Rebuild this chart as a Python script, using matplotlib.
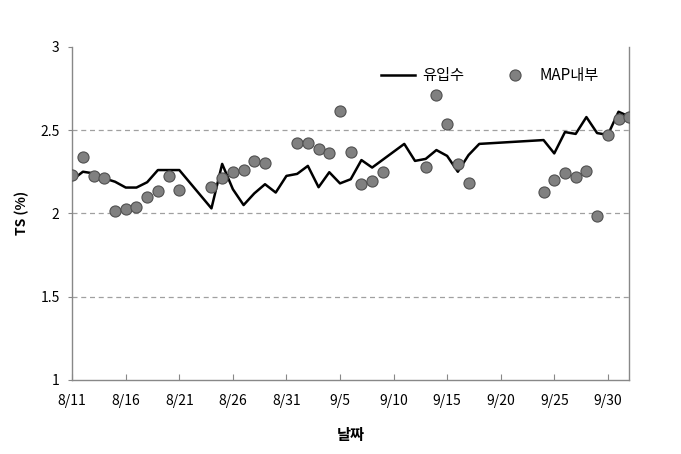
import matplotlib
matplotlib.use('Agg')
from matplotlib import pyplot as plt
import pandas as pd

plt.rcParams['font.family'] = ['Noto Sans CJK KR', 'DejaVu Sans']

# 유입수 (line)
inflow_dates = ['8/11', '8/12', '8/13', '8/14', '8/15', '8/16', '8/17', '8/18', '8/19', '8/20', '8/21',
                '8/24', '8/25', '8/26', '8/27', '8/28', '8/29', '8/30', '8/31', '9/1', '9/2', '9/3',
                '9/4', '9/5', '9/6', '9/7', '9/8', '9/11', '9/12', '9/13', '9/14', '9/15', '9/16',
                '9/17', '9/18', '9/24', '9/25', '9/26', '9/27', '9/28', '9/29', '9/30', '10/1', '10/2']
inflow_ts = [2.20, 2.25, 2.24, 2.21, 2.19, 2.155, 2.155, 2.187, 2.26, 2.26, 2.26,
             2.03, 2.297, 2.145, 2.05, 2.12, 2.175, 2.125, 2.225, 2.237, 2.285, 2.157,
             2.247, 2.18, 2.205, 2.32, 2.275, 2.417, 2.315, 2.327, 2.38, 2.345, 2.25,
             2.35, 2.417, 2.44, 2.36, 2.488, 2.477, 2.578, 2.482, 2.471, 2.61, 2.581]

# MAP내부 (markers)
map_dates = ['8/11', '8/12', '8/13', '8/14', '8/15', '8/16', '8/17', '8/18', '8/19', '8/20', '8/21',
             '8/24', '8/25', '8/26', '8/27', '8/28', '8/29', '9/1', '9/2', '9/3', '9/4', '9/5',
             '9/6', '9/7', '9/8', '9/9', '9/13', '9/14', '9/15', '9/16', '9/17', '9/24', '9/25',
             '9/26', '9/27', '9/28', '9/29', '9/30', '10/1', '10/2']
map_ts = [2.233, 2.341, 2.227, 2.215, 2.013, 2.027, 2.041, 2.10, 2.137, 2.225, 2.143,
          2.16, 2.21, 2.247, 2.26, 2.317, 2.305, 2.42, 2.42, 2.387, 2.36, 2.616,
          2.371, 2.177, 2.197, 2.247, 2.28, 2.712, 2.538, 2.297, 2.185, 2.131, 2.201,
          2.241, 2.217, 2.257, 1.987, 2.471, 2.568, 2.581]

tick_labels = ['8/11', '8/16', '8/21', '8/26', '8/31', '9/5', '9/10', '9/15', '9/20', '9/25', '9/30']


def to_dt(days):
    return pd.to_datetime(['2015/' + d for d in days], format='%Y/%m/%d')


fig = plt.figure(figsize=(6.81, 4.54), dpi=100)
ax = fig.add_axes([0.106, 0.163, 0.818, 0.734])

for y in [1.5, 2.0, 2.5]:
    ax.axhline(y, color='#a0a0a0', lw=0.9, ls=(0, (4, 3)), zorder=0)

ax.plot(to_dt(inflow_dates), inflow_ts, color='black', lw=1.8, label='유입수', zorder=2)
ax.plot(to_dt(map_dates), map_ts, ls='none', marker='o', ms=8, mfc='#808080',
        mec='#505050', mew=0.8, label='MAP내부', zorder=3)

ax.set_xlim(to_dt(['8/11'])[0], to_dt(['10/2'])[0])
ax.set_ylim(1, 3)
ax.set_yticks([1, 1.5, 2, 2.5, 3])
ax.set_yticklabels(['1', '1.5', '2', '2.5', '3'])
ax.set_xticks(to_dt(tick_labels))
ax.set_xticklabels(tick_labels)

ax.tick_params(axis='x', direction='in', length=4, color='#888888', labelsize=10, pad=10)
ax.tick_params(axis='y', direction='out', length=3, color='#888888', labelsize=10, pad=6)

for s in ['left', 'bottom', 'right']:
    ax.spines[s].set_color('#888888')
    ax.spines[s].set_linewidth(1.0)
ax.spines['top'].set_visible(False)

ax.set_ylabel('TS (%)', fontsize=10, fontweight='bold', labelpad=8)
ax.set_xlabel('날짜', fontsize=11, fontweight='bold', labelpad=14)

ax.legend(loc='upper center', bbox_to_anchor=(0.75, 0.98), ncol=2, frameon=False,
          fontsize=11, handlelength=2.2, columnspacing=2.2, handletextpad=0.5)

fig.savefig('out.png', dpi=100)
